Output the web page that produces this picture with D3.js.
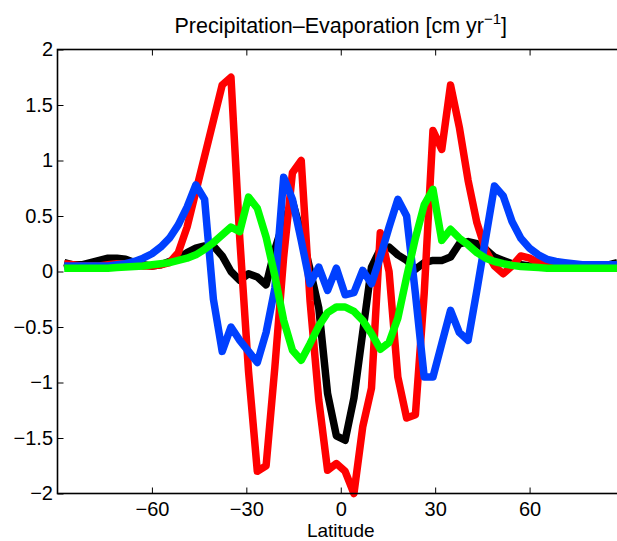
<!DOCTYPE html>
<html>
<head>
<meta charset="utf-8">
<script src="https://cdn.jsdelivr.net/npm/d3@7"></script>
<style>
  body { margin: 0; background: #fff; }
  svg { display: block; font-family: "Liberation Sans", Arial, sans-serif; }
</style>
</head>
<body>
<div id="grafica"></div>
<script>
// gaussian latitudes (northern half), mirrored for the south
const latN = [1.3953, 4.1860, 6.9766, 9.7672, 12.5578, 15.3484, 18.1390, 20.9296,
  23.7202, 26.5108, 29.3014, 32.0919, 34.8825, 37.6731, 40.4636, 43.2542,
  46.0447, 48.8352, 51.6257, 54.4162, 57.2066, 59.9970, 62.7874, 65.5776,
  68.3678, 71.1578, 73.9475, 76.7369, 79.5256, 82.3129, 85.0965, 87.8638]
const lat = latN.map(d => -d).reverse().concat(latN)

// P-E series, south -> north
const black = [0.08, 0.06, 0.06, 0.08, 0.10, 0.12, 0.12, 0.11, 0.08, 0.06,
  0.05, 0.06, 0.09, 0.12, 0.17, 0.21, 0.23, 0.23, 0.14, 0.00,
  -0.08, -0.02, -0.05, -0.12, 0.20, 0.45, 0.63, 0.35, 0.02, -0.33,
  -1.10, -1.48, -1.52, -1.14, -0.55, 0.04, 0.20, 0.22, 0.15, 0.10,
  0.02, 0.08, 0.10, 0.10, 0.13, 0.25, 0.27, 0.25, 0.20, 0.13,
  0.10, 0.07, 0.06, 0.05, 0.05, 0.05, 0.05, 0.05, 0.05, 0.05,
  0.05, 0.05, 0.06, 0.08]

const red = [0.07, 0.06, 0.05, 0.05, 0.05, 0.06, 0.07, 0.07, 0.06, 0.05,
  0.05, 0.06, 0.08, 0.17, 0.40, 0.72, 1.04, 1.36, 1.68, 1.75,
  0.30, -0.90, -1.80, -1.75, -0.86, 0.13, 0.89, 1.00, -0.26, -1.16,
  -1.79, -1.73, -1.80, -2.00, -1.40, -1.05, 0.35, 0.00, -0.95, -1.32,
  -1.29, -0.20, 1.27, 1.10, 1.68, 1.30, 0.82, 0.44, 0.19, 0.05,
  -0.02, 0.05, 0.14, 0.12, 0.08, 0.05, 0.04, 0.04, 0.04, 0.04,
  0.04, 0.04, 0.04, 0.04]

const blue = [0.05, 0.05, 0.05, 0.05, 0.05, 0.05, 0.06, 0.07, 0.09, 0.12,
  0.16, 0.22, 0.30, 0.42, 0.58, 0.78, 0.65, -0.25, -0.72, -0.50,
  -0.62, -0.72, -0.82, -0.55, -0.15, 0.85, 0.65, 0.28, -0.11, 0.04,
  -0.17, 0.03, -0.21, -0.19, 0.01, -0.11, 0.13, 0.40, 0.65, 0.50,
  -0.20, -0.95, -0.95, -0.65, -0.35, -0.55, -0.62, -0.17, 0.30, 0.77,
  0.68, 0.45, 0.30, 0.21, 0.15, 0.11, 0.09, 0.08, 0.07, 0.06,
  0.06, 0.06, 0.06, 0.06]

const green = [0.03, 0.03, 0.03, 0.03, 0.03, 0.03, 0.035, 0.04, 0.045, 0.05,
  0.06, 0.07, 0.08, 0.10, 0.12, 0.15, 0.20, 0.26, 0.33, 0.40,
  0.36, 0.67, 0.57, 0.31, -0.04, -0.44, -0.71, -0.80, -0.65, -0.49,
  -0.37, -0.32, -0.32, -0.36, -0.44, -0.56, -0.70, -0.64, -0.42, -0.05,
  0.30, 0.60, 0.74, 0.28, 0.38, 0.30, 0.24, 0.17, 0.12, 0.09,
  0.07, 0.055, 0.045, 0.04, 0.035, 0.03, 0.03, 0.03, 0.03, 0.03,
  0.03, 0.03, 0.03, 0.03]

const series = [
  { name: 'black', color: '#000000', values: black },
  { name: 'red', color: '#ff0000', values: red },
  { name: 'blue', color: '#0040ff', values: blue },
  { name: 'green', color: '#00ff00', values: green },
]

const xTicks = [-60, -30, 0, 30, 60]
const yTicks = [-2, -1.5, -1, -0.5, 0, 0.5, 1, 1.5, 2]

const svgWidth = 617
const svgHeight = 541
const margin = { top: 49.5, left: 57.5, bottom: 47.5 }
const plotRight = 624   // right edge of the axes box lies just past the picture
const chartHeight = svgHeight - margin.top - margin.bottom

const scaleX = d3.scaleLinear()
    .domain([-90, 90])
    .range([margin.left, plotRight])

const scaleY = d3.scaleLinear()
    .domain([-2, 2])
    .range([margin.top + chartHeight, margin.top])

const fmt = d => (d < 0 ? '\u2212' : '') + Math.abs(d)

const svg = d3.select('#grafica')
    .append('svg')
    .attr('width', svgWidth)
    .attr('height', svgHeight)

// lines
const line = d3.line()
    .x((d, i) => scaleX(lat[i]))
    .y(d => scaleY(d))

svg.selectAll('.serie')
    .data(series)
    .enter()
    .append('path')
    .attr('class', 'serie')
    .attr('d', d => line(d.values))
    .style('fill', 'none')
    .style('stroke', d => d.color)
    .style('stroke-width', 7.5)
    .style('stroke-linejoin', 'round')
    .style('stroke-linecap', 'butt')

// axes, ticks pointing inward
const axisBottom = d3.axisBottom(scaleX).tickValues(xTicks).tickSize(-6).tickPadding(8).tickFormat(fmt)
const axisTop = d3.axisTop(scaleX).tickValues(xTicks).tickSize(-6).tickFormat('')
const axisLeft = d3.axisLeft(scaleY).tickValues(yTicks).tickSize(-6).tickPadding(4.5).tickFormat(fmt)

const gx = svg.append('g')
    .attr('transform', `translate(0,${margin.top + chartHeight})`)
    .call(axisBottom)
const gt = svg.append('g')
    .attr('transform', `translate(0,${margin.top})`)
    .call(axisTop)
const gy = svg.append('g')
    .attr('transform', `translate(${margin.left},0)`)
    .call(axisLeft)

;[gx, gt, gy].forEach(g => {
  g.select('.domain').remove()
  g.selectAll('line').style('stroke', '#000').style('stroke-width', 1)
  g.selectAll('text').style('font-size', '20px').style('fill', '#000')
      .style('font-family', '"Liberation Sans", Arial, sans-serif')
})

// frame
svg.append('rect')
    .attr('x', margin.left)
    .attr('y', margin.top)
    .attr('width', plotRight - margin.left)
    .attr('height', chartHeight)
    .style('fill', 'none')
    .style('stroke', '#000')
    .style('stroke-width', 1.6)

// title and label
const title = svg.append('text')
    .attr('x', scaleX(0))
    .attr('y', 33)
    .attr('text-anchor', 'middle')
    .style('font-size', '21.5px')
title.append('tspan').text('Precipitation\u2013Evaporation [cm yr')
title.append('tspan').attr('dy', -9).style('font-size', '15px').text('\u22121')
title.append('tspan').attr('dy', 9).text(']')

svg.append('text')
    .attr('x', scaleX(0))
    .attr('y', 537)
    .attr('text-anchor', 'middle')
    .style('font-size', '19px')
    .text('Latitude')
</script>
</body>
</html>
